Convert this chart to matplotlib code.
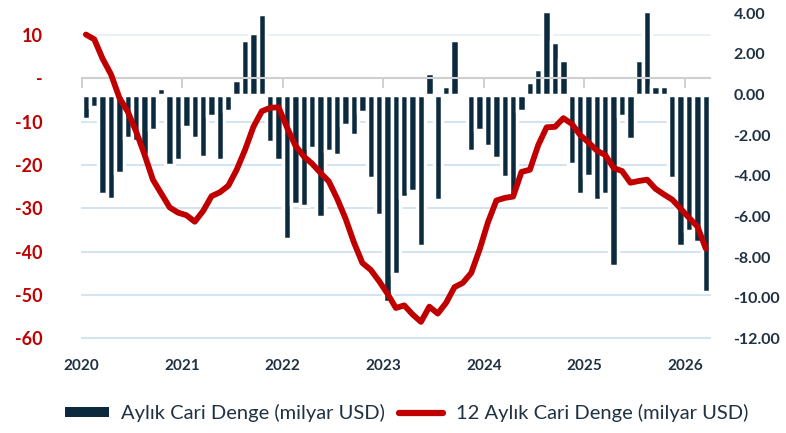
import matplotlib
matplotlib.use('Agg')
import matplotlib.pyplot as plt
import numpy as np
from matplotlib.patches import Patch
from matplotlib.lines import Line2D
from matplotlib.transforms import blended_transform_factory
from matplotlib.ticker import FuncFormatter, FixedLocator

plt.rcParams['font.family'] = ['Lato', 'DejaVu Sans']

# ---- data (billion USD) ----
years = ['2020', '2021', '2022', '2023', '2024', '2025', '2026']

monthly_2020 = [-1.18, -0.60, -4.92, -5.12, -3.85, -2.13, -2.30, -3.00, -1.75, 0.34, -3.48, -3.23]
monthly_2021 = [-1.59, -2.13, -3.07, -1.05, -3.23, -0.80, 0.72, 2.69, 3.05, 3.97, -2.33, -3.23]
monthly_2022 = [-7.09, -5.40, -5.48, -2.61, -6.02, -2.79, -2.99, -1.51, -1.97, -0.88, -4.13, -5.91]
monthly_2023 = [-10.19, -8.81, -5.04, -4.76, -7.45, 1.05, -5.20, 0.44, 2.69, -0.10, -2.79, -1.75]
monthly_2024 = [-2.52, -3.12, -4.05, -5.10, -0.80, 0.64, 1.26, 4.10, 2.61, 1.71, -3.43, -4.92]
monthly_2025 = [-4.00, -5.20, -4.92, -8.43, -1.05, -2.21, 1.71, 4.10, 0.44, 0.44, -4.10, -7.45]
monthly_2026 = [-6.73, -7.25, -9.71]

rolling_2020 = [10.1, 9.0, 4.5, 0.9, -4.5, -7.7, -12.3, -17.6, -23.4, -26.6, -29.8, -31.0]
rolling_2021 = [-31.6, -33.1, -30.6, -27.2, -26.3, -24.8, -21.1, -16.5, -11.2, -7.6, -6.8, -6.7]
rolling_2022 = [-11.3, -15.5, -18.0, -19.7, -21.8, -23.8, -27.8, -32.4, -37.9, -42.6, -44.2, -46.8]
rolling_2023 = [-49.7, -53.0, -52.4, -54.5, -56.2, -52.7, -54.3, -51.8, -48.2, -47.2, -44.9, -39.5]
rolling_2024 = [-33.2, -28.2, -27.6, -27.3, -21.6, -21.1, -15.4, -11.3, -11.2, -9.2, -10.5, -13.1]
rolling_2025 = [-14.8, -16.7, -17.7, -20.7, -21.4, -24.1, -23.7, -23.4, -25.5, -26.8, -28.0, -30.1]
rolling_2026 = [-32.2, -34.2, -39.3]

monthly = (monthly_2020 + monthly_2021 + monthly_2022 + monthly_2023 +
           monthly_2024 + monthly_2025 + monthly_2026)
rolling = (rolling_2020 + rolling_2021 + rolling_2022 + rolling_2023 +
           rolling_2024 + rolling_2025 + rolling_2026)

label_bar = 'Aylık Cari Denge (milyar USD)'
label_line = '12 Aylık Cari Denge (milyar USD)'

NAVY = '#0b2a3e'
RED = '#c00000'
TXT = '#1f3142'
GRID = '#cfe0f1'

n = len(monthly)
x = np.arange(n) + 0.5

fig = plt.figure(figsize=(7.86, 4.33), dpi=100)
ax = fig.add_axes([81.7 / 786, 1 - 338.3 / 433, (710 - 81.7) / 786, (338.3 - 13.3) / 433])
ax_line = ax.twinx()

# bars (right axis)
ax.bar(x, monthly, width=1.0, color=NAVY, edgecolor='white', linewidth=2.5,
       zorder=3, clip_on=False)
ax.set_ylim(-12, 4)
ax.set_xlim(0, 12 * 6 + 3)
ax.yaxis.tick_right()
ax.yaxis.set_major_locator(FixedLocator(np.arange(-12, 5, 2)))
ax.yaxis.set_major_formatter(FuncFormatter(lambda v, p: f'{v:.2f}'))
ax.tick_params(axis='y', length=0, pad=17, labelcolor=TXT, labelsize=11.5)
ax.set_xticks(np.arange(0, 12 * 7, 12))
ax.set_xticklabels(years)
ax.tick_params(axis='x', length=0, pad=15, labelcolor=TXT, labelsize=11)
for lab in ax.get_yticklabels() + ax.get_xticklabels():
    lab.set_fontweight('bold')
for s in ax.spines.values():
    s.set_visible(False)

# line (left axis)
ax_line.set_ylim(-60, 15)
ax_line.yaxis.tick_left()
ax_line.yaxis.set_major_locator(FixedLocator(np.arange(-60, 11, 10)))
ax_line.yaxis.set_major_formatter(FuncFormatter(lambda v, p: '-' if v == 0 else f'{int(v)}'))
ax_line.tick_params(axis='y', length=0, pad=28, labelcolor=RED, labelsize=13)
for lab in ax_line.get_yticklabels():
    lab.set_fontweight('bold')
ax_line.xaxis.set_visible(True)
ax_line.tick_params(axis='x', labelbottom=False, length=7, width=1.2,
                    color='#c8c8c8', direction='out')
for k in ['top', 'left', 'right']:
    ax_line.spines[k].set_visible(False)
ax_line.spines['bottom'].set_position(('data', 0))
ax_line.spines['bottom'].set_color('#cfcfcf')
ax_line.spines['bottom'].set_linewidth(1.5)
ax_line.spines['bottom'].set_zorder(2)

# gridlines at left-axis values, drawn beneath bars
trans = blended_transform_factory(ax.transAxes, ax_line.transData)
for v in np.arange(-60, 11, 10):
    if v == 0:
        continue
    ax.plot([0, 1], [v, v], transform=trans, color=('#e8eff7' if v == 10 else GRID),
            lw=1.3, zorder=1, clip_on=False)

ax_line.plot(x, rolling, color=RED, lw=4.2, solid_joinstyle='round',
             solid_capstyle='round', zorder=5)

handles = [Patch(facecolor=NAVY, edgecolor='none'),
           Line2D([], [], color=RED, lw=4.5, solid_capstyle='round')]
leg = fig.legend(handles, [label_bar, label_line], loc='center',
                 bbox_to_anchor=(0.517, 1 - 413 / 433), ncol=2, frameon=False,
                 fontsize=14.5, handlelength=2.2, handleheight=0.4,
                 handletextpad=0.6, columnspacing=0.7)
for t in leg.get_texts():
    t.set_color(TXT)

fig.savefig('out.png', dpi=100)
